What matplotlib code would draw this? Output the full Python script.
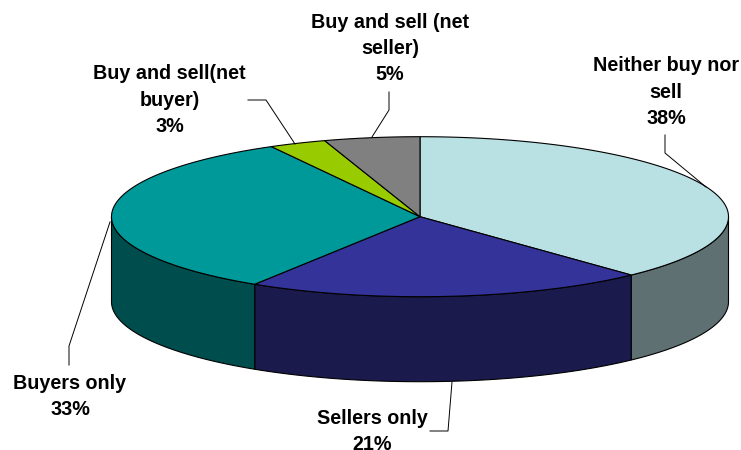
import numpy as np
import matplotlib

matplotlib.use('Agg')
import matplotlib.pyplot as plt

matplotlib.rcParams['font.family'] = ['Liberation Sans', 'DejaVu Sans']
matplotlib.rcParams['font.size'] = 14.2
matplotlib.rcParams['font.weight'] = 'bold'

labels = ['Neither buy nor\nsell', 'Sellers only', 'Buyers only', 'Buy and sell(net\nbuyer)', 'Buy and sell (net\nseller)']
values = [38, 21, 33, 3, 5]
top_colors = ['#B9E0E3', '#333399', '#009999', '#99CC00', '#808080']
side_colors = ['#5F7072', '#1A1A4D', '#004D4D', '#4D6600', '#404040']

# pie geometry, in pixels
CX, CY = 420, 216.7
RX, RY = 308.5, 80
DEPTH = 85

label_pos = [(666, 92), (372, 431.5), (70, 396.5), (169.5, 100), (390, 48.5)]
leaders = [
    [(665, 135), (665, 153), (706, 187)],
    [(430, 431), (448, 431), (452, 382)],
    [(69, 365), (69, 346), (110, 222)],
    [(248, 100), (266, 100), (295, 144)],
    [(389, 92), (389, 110), (372, 137)],
]


def rim(a0, a1, n=120):
    # angles run clockwise from 12 o'clock
    t = np.linspace(a0, a1, n)
    return CX + RX * np.sin(t), CY - RY * np.cos(t)


fig = plt.figure(figsize=(7.41, 4.5), dpi=100)
ax = fig.add_axes([0, 0, 1, 1])
ax.set_xlim(0, 741)
ax.set_ylim(450, 0)
ax.axis('off')

edges = np.cumsum([0] + values) / sum(values) * 2 * np.pi

# side walls first, only the part of the rim facing the viewer
for i in range(len(values)):
    a0 = max(edges[i], np.pi / 2)
    a1 = min(edges[i + 1], 3 * np.pi / 2)
    if a0 >= a1:
        continue
    x, y = rim(a0, a1)
    ax.fill(np.r_[x, x[::-1]], np.r_[y, y[::-1] + DEPTH], facecolor=side_colors[i],
            edgecolor='black', linewidth=0.8, zorder=1)

# top face
for i in range(len(values)):
    x, y = rim(edges[i], edges[i + 1])
    ax.fill(np.r_[CX, x], np.r_[CY, y], facecolor=top_colors[i], edgecolor='black',
            linewidth=0.8, zorder=2)

for pts in leaders:
    xs, ys = zip(*pts)
    ax.plot(xs, ys, color='black', linewidth=0.7, zorder=3)

for lab, val, (x, y) in zip(labels, values, label_pos):
    ax.text(x, y, f'{lab}\n{val}%', ha='center', va='center', color='black',
            linespacing=1.5, clip_on=False)

plt.savefig('out.png', dpi=100)
